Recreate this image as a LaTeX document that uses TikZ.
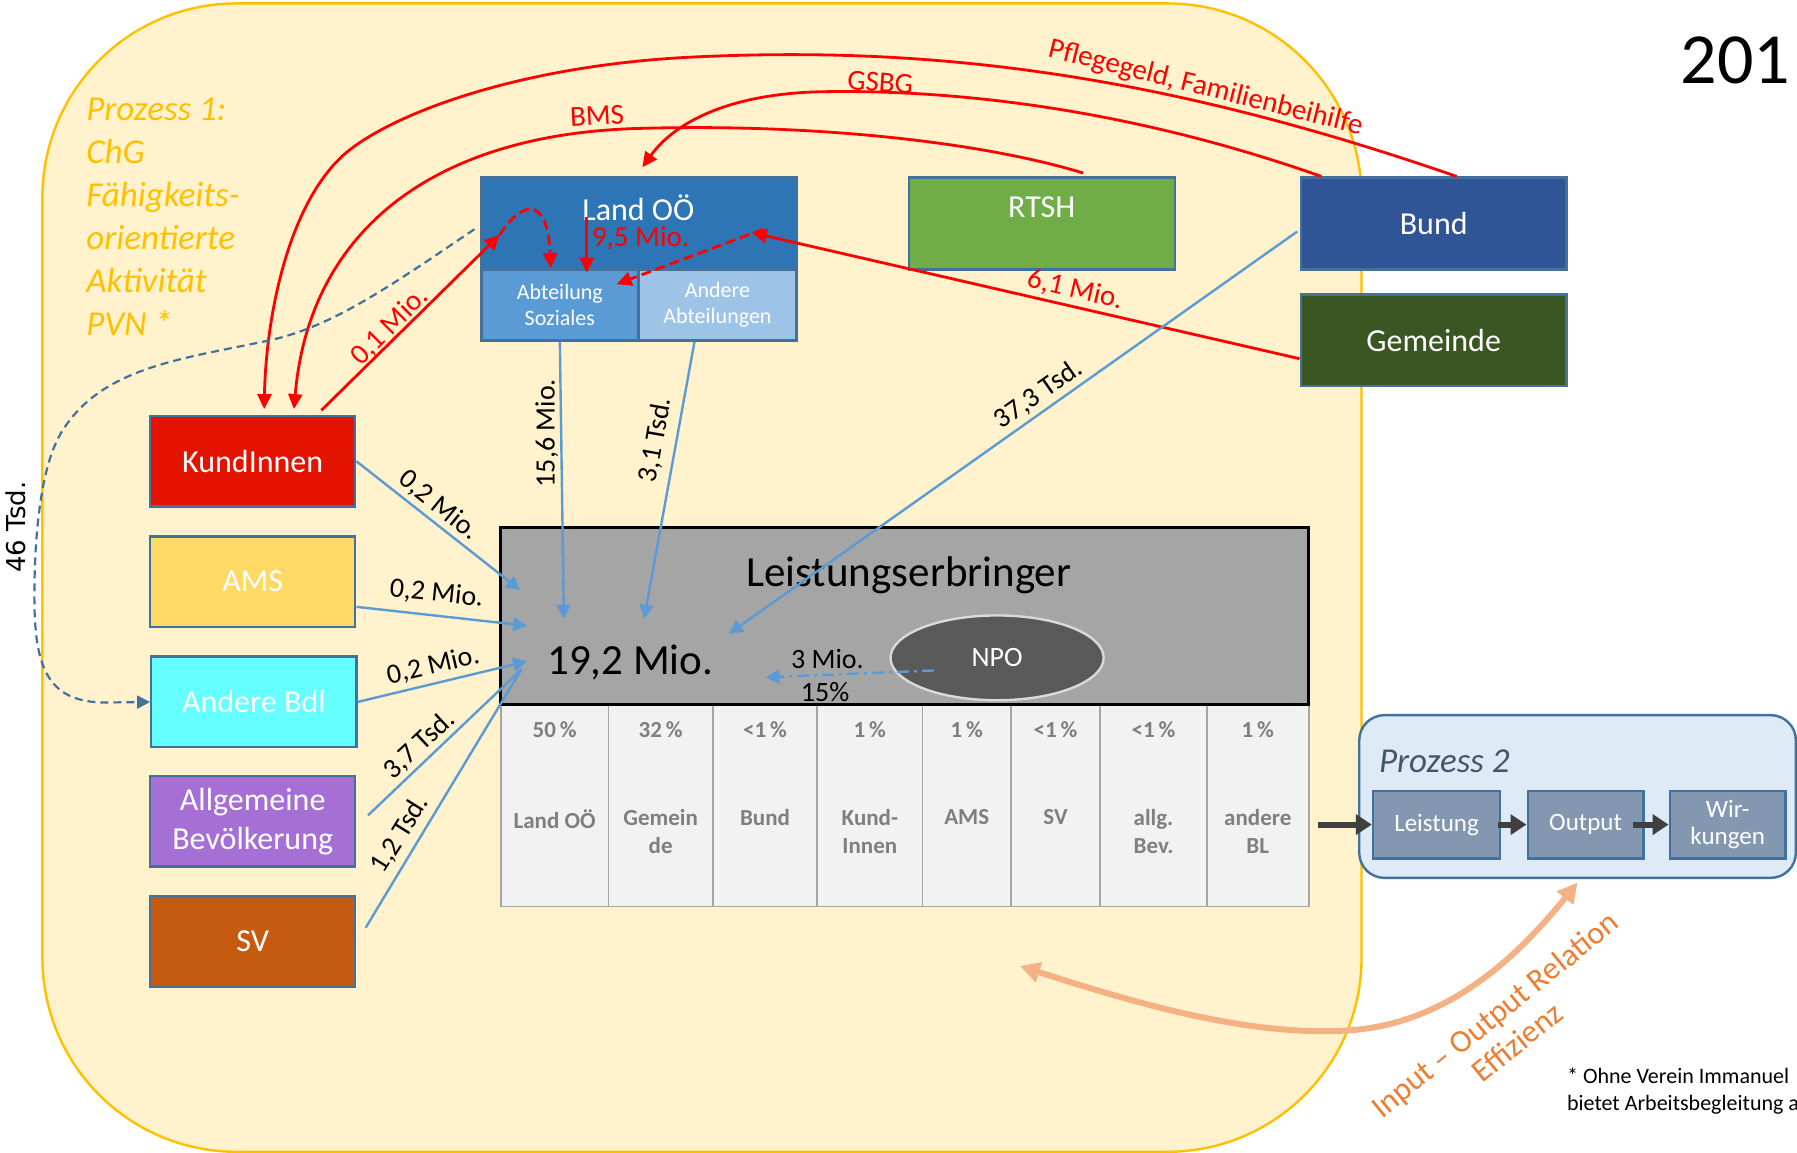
\documentclass[tikz,border=0pt]{standalone}
\usepackage{fontspec}
\setmainfont{Carlito}
\newfontfamily\dejavu{DejaVu Sans}
\usetikzlibrary{arrows.meta,shapes.geometric,calc}
\definecolor{bgY}{HTML}{FFF2CC}
\definecolor{bgBorder}{HTML}{FFC000}
\definecolor{boxBorder}{HTML}{41719C}
\definecolor{landC}{HTML}{2E75B6}
\definecolor{sozC}{HTML}{5B9BD5}
\definecolor{abtC}{HTML}{9DC3E6}
\definecolor{rtshC}{HTML}{70AD47}
\definecolor{bundC}{HTML}{2F5597}
\definecolor{gemC}{HTML}{3A5723}
\definecolor{kundC}{HTML}{E31300}
\definecolor{amsC}{HTML}{FFD966}
\definecolor{bdlC}{HTML}{66FFFF}
\definecolor{allgC}{HTML}{A66FD5}
\definecolor{svC}{HTML}{C55A11}
\definecolor{leC}{HTML}{A5A5A5}
\definecolor{npoC}{HTML}{595959}
\definecolor{npoB}{HTML}{D9D9D9}
\definecolor{tabC}{HTML}{F2F2F2}
\definecolor{tabLine}{HTML}{A6A6A6}
\definecolor{tabText}{HTML}{7F7F7F}
\definecolor{blueLine}{HTML}{5B9BD5}
\definecolor{redLine}{HTML}{FF0000}
\definecolor{pzBg}{HTML}{DEEBF7}
\definecolor{pzBox}{HTML}{8497B0}
\definecolor{pzText}{HTML}{44546A}
\definecolor{darkArr}{HTML}{404040}
\definecolor{orLine}{HTML}{F4B183}
\definecolor{orText}{HTML}{ED7D31}
\def\px{0.573pt}
\begin{document}
\begin{tikzpicture}[x=0.573pt,y=-0.573pt,
  box/.style={draw=boxBorder, line width=1.2pt, inner sep=0pt, text=white, align=center},
  boxfont/.style={font=\fontsize{16}{19.5}\selectfont},
  leftbox/.style={box, boxfont, minimum width=179*\px, minimum height=79*\px},
  topbox/.style={box, boxfont, minimum width=232*\px, minimum height=80*\px},
  blue arrow/.style={draw=blueLine, line width=1.2pt, -{Triangle[length=7pt,width=7pt]}},
  blue line/.style={draw=blueLine, line width=1.2pt},
  red arrow/.style={draw=redLine, line width=1.4pt, -{Triangle[length=7.5pt,width=7pt]}},
  red dashed/.style={red arrow, dash pattern=on 5pt off 2.5pt},
  redlbl/.style={text=redLine, font=\fontsize{14.5}{17}\selectfont, inner sep=0pt},
  blklbl/.style={text=black, font=\fontsize{14}{17}\selectfont, inner sep=0pt},
  cell/.style={draw=tabLine, fill=tabC, line width=0.8pt, inner sep=0pt},
  celltxt/.style={text=tabText, font=\bfseries\fontsize{11.5}{13.75}\selectfont, align=center, inner sep=0pt},
  pzbox/.style={draw=boxBorder, fill=pzBox, line width=1.2pt, text=white, font=\fontsize{12.5}{13.75}\selectfont, align=center, inner sep=0pt, minimum height=59*\px},
  dark arrow/.style={draw=darkArr, line width=3pt, -{Triangle[length=8pt,width=10pt]}},
]
\useasboundingbox (0,0) rectangle (1568,1006);
\path[fill=white] (0,0) rectangle (1568,1006);
% background process 1
\draw[draw=bgBorder, fill=bgY, line width=1.2pt, rounded corners=97pt] (37,3) rectangle (1188,1005);

\node[anchor=base west, font=\fontsize{36}{40}\selectfont, inner sep=0pt] (yr) at (1466,73) {201};
\node[anchor=north west, align=left, text=bgBorder, font=\itshape\fontsize{17.5}{21.5}\selectfont, inner sep=0pt] (p1) at (75,85) {Prozess 1:\\ChG\\Fähigkeits-\\orientierte\\Aktivität\\PVN *};

% Land OÖ
\node[box, fill=landC, minimum width=275*\px, minimum height=80*\px] (land) at (557.5,195) {};
\node[box, fill=sozC, minimum width=137*\px, minimum height=62*\px, font=\fontsize{11}{12.6}\selectfont] (soz) at (488.5,266) {Abteilung\\Soziales};
\node[box, fill=abtC, minimum width=138*\px, minimum height=62*\px, font=\fontsize{11}{12.6}\selectfont] (abt) at (626,266) {Andere\\Abteilungen};
\node[text=white, font=\fontsize{16}{19}\selectfont, inner sep=0pt] (landtxt) at (557,181) {Land OÖ};

% top right boxes
\node[topbox, fill=rtshC] (rtsh) at (909,195) {};
\node[text=white, font=\fontsize{16}{19}\selectfont, inner sep=0pt] (rtshtxt) at (909,181) {RTSH};
\node[topbox, fill=bundC] (bund) at (1251,195) {Bund};
\node[topbox, fill=gemC] (gem) at (1251,297) {Gemeinde};

% left boxes
\node[leftbox, fill=kundC] (kund) at (220.5,402.5) {KundInnen};
\node[leftbox, fill=amsC] (ams) at (220.5,507.5) {AMS};
\node[leftbox, fill=bdlC] (bdl) at (221.5,612.5) {Andere Bdl};
\node[leftbox, fill=allgC] (allg) at (220.5,716.5) {Allgemeine\\Bevölkerung};
\node[leftbox, fill=svC] (sv) at (220.5,821.5) {SV};

% table
\foreach \i/\a/\b in {1/437/531,2/531/622,3/622/713,4/713/805,5/805/882,6/882/960,7/960/1053,8/1053/1142}{
  \node[cell, minimum width={(\b-\a)*\px}, minimum height=176*\px] (t\i) at ({(\a+\b)/2},703) {};
}
\node[celltxt] (pc1) at (484,637) {50\,\%};
\node[celltxt] (pc2) at (576.5,637) {32\,\%};
\node[celltxt] (pc3) at (667.5,637) {<1\,\%};
\node[celltxt] (pc4) at (759,637) {1\,\%};
\node[celltxt] (pc5) at (843.5,637) {1\,\%};
\node[celltxt] (pc6) at (921,637) {<1\,\%};
\node[celltxt] (pc7) at (1006.5,637) {<1\,\%};
\node[celltxt] (pc8) at (1097.5,637) {1\,\%};
\node[celltxt, anchor=north] (lb1) at (484,706) {Land OÖ};
\node[celltxt, anchor=north] (lb2) at (576.5,706) {Gemein\\de};
\node[celltxt, anchor=north] (lb3) at (667.5,706) {Bund};
\node[celltxt, anchor=north] (lb4) at (759,706) {Kund-\\Innen};
\node[celltxt, anchor=north] (lb5) at (843.5,706) {AMS};
\node[celltxt, anchor=north] (lb6) at (921,706) {SV};
\node[celltxt, anchor=north] (lb7) at (1006.5,706) {allg.\\Bev.};
\node[celltxt, anchor=north] (lb8) at (1097.5,706) {andere\\BL};

% Leistungserbringer
\node[draw=black, fill=leC, line width=1.5pt, minimum width=705*\px, minimum height=155*\px, inner sep=0pt] (le) at (789.5,537.5) {};
\node[font=\fontsize{21.5}{25}\selectfont, inner sep=0pt] (letxt) at (793,502) {Leistungserbringer};
\node[font=\fontsize{21.5}{25}\selectfont, inner sep=0pt] (sum) at (550,578) {19,2 Mio.};
\node[ellipse, draw=npoB, fill=npoC, line width=1.2pt, minimum width=186*\px, minimum height=74*\px, inner sep=0pt, text=white, font=\fontsize{14}{17}\selectfont] (npo) at (870,574) {NPO};
\node[blklbl] (m3) at (722,575) {3 Mio.};
\node[blklbl] (p15) at (720,604) {15\%};

% Prozess 2
\node[draw=boxBorder, fill=pzBg, line width=1.2pt, rounded corners=12.6pt, minimum width=381*\px, minimum height=142*\px, inner sep=0pt] (p2) at (1376.5,695) {};
\node[anchor=west, text=pzText, font=\itshape\fontsize{17.5}{21}\selectfont, inner sep=0pt] (p2txt) at (1203,664) {Prozess 2};
\node[pzbox, minimum width=111*\px] (leis) at (1253.5,719.5) {Leistung};
\node[pzbox, minimum width=101*\px] (outp) at (1383.5,719.5) {Output};
\node[pzbox, minimum width=101*\px] (wirk) at (1507.5,719.5) {Wir-\\kungen};

% coordinates
\coordinate (tabout) at (1150,719.5);
\coordinate (ioL) at (890,843);
\coordinate (ioM) at (1178,899);
\coordinate (c01) at (436,205);
\coordinate (c95) at (512,189);
\coordinate (c61) at (656,203);
\coordinate (cd61) at (666,200);
\coordinate (cK) at (454,515);
\coordinate (cA) at (460,546);
\coordinate (cB) at (460,577);
\coordinate (cS) at (455,584);
\coordinate (c156) at (492,540);
\coordinate (c31) at (562,540);
\coordinate (c373) at (636,553);
\coordinate (cnpo) at (815,585);
\coordinate (c3m) at (668,591);

% dark arrows in Prozess 2
\draw[dark arrow] (tabout) -- (leis.west);
\draw[dark arrow] ($(leis.east)+(-3,0)$) -- (outp.west);
\draw[dark arrow] ($(outp.east)+(-10,0)$) -- (wirk.west);

% orange relation arrow
\draw[draw=orLine, line width=3pt, {Triangle[length=10pt,width=10pt]}-{Triangle[length=10pt,width=10pt]}] (ioL) .. controls (990,875) and (1090,905) .. (ioM) .. controls (1260,893) and (1320,840) .. ($(p2.south)+(0,3)$);

% red connectors
\draw[red arrow] ($(bund.north)+(20,0)$) .. controls (1000,60) and (800,40) .. (600,50) .. controls (450,58) and (340,100) .. (300,135) .. controls (250,180) and (232,280) .. ($(kund.north)+(10,-5)$);
\draw[red arrow] ($(bund.north)+(-98,0)$) .. controls (1000,100) and (850,78) .. (720,80) .. controls (640,81) and (590,105) .. ($(land.north)+(3,-8)$);
\draw[red arrow] ($(rtsh.north)+(36,-3)$) .. controls (850,122) and (700,108) .. (560,112) .. controls (380,116) and (270,200) .. ($(kund.north)+(36,-5)$);
\draw[red arrow] ($(kund.north)+(60,-4)$) -- (c01);
\draw[red dashed] (c01) .. controls (455,175) and (478,170) .. ($(soz.north)+(-8,0)$);
\draw[red arrow] (c95) -- ($(soz.north)+(23.5,4)$);
\draw[red arrow] ($(gem.west)+(0,16)$) -- (c61);
\draw[red dashed] (cd61) -- ($(soz.north east)+(-20,14)$);

% blue connectors
\draw[blue arrow] (kund.east) -- (cK);
\draw[blue arrow] ($(ams.east)+(0,22)$) -- (cA);
\draw[blue line] ($(allg.east)+(10,-5)$) -- (cS);
\draw[blue line] ($(sv.east)+(8,-12)$) -- (cS);
\draw[blue arrow] (bdl.east) -- (cB);
\draw[blue arrow] (soz.south) -- (c156);
\draw[blue arrow] ($(abt.south)+(-20,0)$) -- (c31);
\draw[blue arrow] ($(bund.west)+(-2,7)$) -- (c373);
\draw[blue arrow, dash pattern=on 6pt off 2.5pt on 1.5pt off 2.5pt] (cnpo) -- (c3m);
\draw[draw=boxBorder, line width=1.1pt, dash pattern=on 4pt off 2.5pt, -{Triangle[length=6.5pt,width=6.5pt]}] ($(land.west)+(-5,5)$) .. controls (340,250) and (290,285) .. (235,297) .. controls (160,313) and (90,320) .. (55,375) .. controls (35,405) and (30,470) .. (30,520) .. controls (30,580) and (40,612) .. (90,613) -- (bdl.west);

% labels
\node[redlbl] (l95) at (559,208) {9,5 Mio.};
\node[redlbl, rotate=-14] (lpf) at (1052,77) {Pflegegeld, Familienbeihilfe};
\node[redlbl, rotate=-4] (lgs) at (768,72) {GSBG};
\node[redlbl, rotate=3] (lbms) at (521,101) {BMS};
\node[redlbl, rotate=45] (l01) at (340,285) {0,1 Mio.};
\node[redlbl, rotate=-13] (l61) at (938,253) {6,1 Mio.};
\node[blklbl, rotate=-39] (lk) at (383,441) {0,2 Mio.};
\node[blklbl, rotate=-6] (la) at (381,518) {0,2 Mio.};
\node[blklbl, rotate=13] (lb) at (378,581) {0,2 Mio.};
\node[blklbl, rotate=43] (l37) at (366,650) {3,7 Tsd.};
\node[blklbl, rotate=58] (l12) at (349,728) {1,2 Tsd.};
\node[blklbl, rotate=90] (l156) at (477,378) {15,6 Mio.};
\node[blklbl, rotate=80] (l31) at (572,384) {3,1 Tsd.};
\node[blklbl, rotate=35] (l373) at (906,344) {37,3 Tsd.};
\node[blklbl, rotate=90, font=\dejavu\fontsize{13}{15}\selectfont] (l46) at (14,460) {46 Tsd.};

\node[text=orText, font=\fontsize{16}{17.8}\selectfont, align=center, rotate=39, inner sep=0pt] (io) at (1314,897) {Input – Output Relation\\Effizienz};
\node[anchor=north west, align=left, font=\fontsize{11}{13.75}\selectfont, inner sep=0pt] (fn) at (1367,931) {* Ohne Verein Immanuel\\bietet Arbeitsbegleitung a};
\end{tikzpicture}
\end{document}
